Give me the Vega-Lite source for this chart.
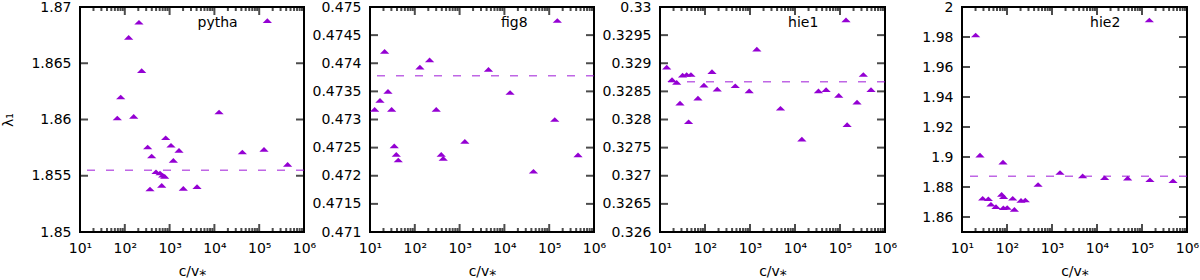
{
  "$schema": "https://vega.github.io/schema/vega-lite/v6.json",
  "padding": {"left": 0, "top": -1, "right": 5, "bottom": 0},
  "spacing": -8,
  "config": {
    "font": "DejaVu Sans",
    "view": {"stroke": "black", "strokeWidth": 2},
    "tick": {"color": "black", "thickness": 2},
    "style": {"guide-label": {"font": "DejaVu Sans", "fontSize": 14, "fill": "black"}, "guide-title": {"font": "DejaVu Sans", "fontSize": 14, "fontWeight": "normal", "fill": "black"}},
    "axis": {"domain": false, "ticks": false, "tickSize": 0, "grid": false, "labelColor": "black", "labelFont": "DejaVu Sans", "labelFontSize": 14, "titleFont": "DejaVu Sans", "titleFontSize": 14, "titleFontWeight": "normal", "titleColor": "black", "labelFlush": false}
  },
  "datasets": {
    "pts": [
      {"panel": "pytha", "c": 68, "lam": 1.86013}, {"panel": "pytha", "c": 81, "lam": 1.862}, {"panel": "pytha", "c": 122, "lam": 1.8673}, {"panel": "pytha", "c": 158, "lam": 1.86028}, {"panel": "pytha", "c": 207, "lam": 1.86864}, {"panel": "pytha", "c": 238, "lam": 1.86434}, {"panel": "pytha", "c": 324, "lam": 1.85756}, {"panel": "pytha", "c": 398, "lam": 1.85676}, {"panel": "pytha", "c": 818, "lam": 1.85838}, {"panel": "pytha", "c": 1074, "lam": 1.85771}, {"panel": "pytha", "c": 1622, "lam": 1.85726}, {"panel": "pytha", "c": 1211, "lam": 1.85637}, {"panel": "pytha", "c": 497, "lam": 1.85536}, {"panel": "pytha", "c": 611, "lam": 1.85524}, {"panel": "pytha", "c": 702, "lam": 1.85504}, {"panel": "pytha", "c": 777, "lam": 1.85495}, {"panel": "pytha", "c": 365, "lam": 1.85382}, {"panel": "pytha", "c": 667, "lam": 1.85415}, {"panel": "pytha", "c": 2023, "lam": 1.85388}, {"panel": "pytha", "c": 4093, "lam": 1.85403}, {"panel": "pytha", "c": 12700, "lam": 1.86067}, {"panel": "pytha", "c": 42000, "lam": 1.85711}, {"panel": "pytha", "c": 128000, "lam": 1.85735}, {"panel": "pytha", "c": 152000, "lam": 1.86879}, {"panel": "pytha", "c": 431000, "lam": 1.85601},
      {"panel": "fig8", "c": 12.7, "lam": 0.47318}, {"panel": "fig8", "c": 16.7, "lam": 0.47334}, {"panel": "fig8", "c": 21.2, "lam": 0.47421}, {"panel": "fig8", "c": 25.2, "lam": 0.4735}, {"panel": "fig8", "c": 30.4, "lam": 0.47318}, {"panel": "fig8", "c": 34.8, "lam": 0.47253}, {"panel": "fig8", "c": 38.6, "lam": 0.47238}, {"panel": "fig8", "c": 42.8, "lam": 0.47228}, {"panel": "fig8", "c": 130, "lam": 0.47393}, {"panel": "fig8", "c": 214, "lam": 0.47406}, {"panel": "fig8", "c": 301, "lam": 0.47318}, {"panel": "fig8", "c": 389, "lam": 0.47238}, {"panel": "fig8", "c": 431, "lam": 0.47231}, {"panel": "fig8", "c": 1309, "lam": 0.47261}, {"panel": "fig8", "c": 4415, "lam": 0.47389}, {"panel": "fig8", "c": 13400, "lam": 0.47348}, {"panel": "fig8", "c": 44500, "lam": 0.47208}, {"panel": "fig8", "c": 133000, "lam": 0.473}, {"panel": "fig8", "c": 152000, "lam": 0.47476}, {"panel": "fig8", "c": 440000, "lam": 0.47237},
      {"panel": "hie1", "c": 14.1, "lam": 0.32893}, {"panel": "hie1", "c": 18.5, "lam": 0.32871}, {"panel": "hie1", "c": 23.5, "lam": 0.32866}, {"panel": "hie1", "c": 27.8, "lam": 0.32829}, {"panel": "hie1", "c": 31.8, "lam": 0.32879}, {"panel": "hie1", "c": 39.1, "lam": 0.3288}, {"panel": "hie1", "c": 43.2, "lam": 0.32796}, {"panel": "hie1", "c": 48.7, "lam": 0.3288}, {"panel": "hie1", "c": 69.7, "lam": 0.32838}, {"panel": "hie1", "c": 94.6, "lam": 0.32861}, {"panel": "hie1", "c": 143, "lam": 0.32885}, {"panel": "hie1", "c": 187, "lam": 0.32854}, {"panel": "hie1", "c": 470, "lam": 0.3286}, {"panel": "hie1", "c": 960, "lam": 0.32851}, {"panel": "hie1", "c": 1419, "lam": 0.32925}, {"panel": "hie1", "c": 4760, "lam": 0.3282}, {"panel": "hie1", "c": 14200, "lam": 0.32765}, {"panel": "hie1", "c": 33200, "lam": 0.32851}, {"panel": "hie1", "c": 49100, "lam": 0.32853}, {"panel": "hie1", "c": 93800, "lam": 0.32843}, {"panel": "hie1", "c": 136000, "lam": 0.32977}, {"panel": "hie1", "c": 144000, "lam": 0.32791}, {"panel": "hie1", "c": 239000, "lam": 0.32831}, {"panel": "hie1", "c": 330000, "lam": 0.3288}, {"panel": "hie1", "c": 489000, "lam": 0.32853},
      {"panel": "hie2", "c": 20.1, "lam": 1.98135}, {"panel": "hie2", "c": 25.1, "lam": 1.90122}, {"panel": "hie2", "c": 28.8, "lam": 1.8725}, {"panel": "hie2", "c": 38.5, "lam": 1.8722}, {"panel": "hie2", "c": 44, "lam": 1.8685}, {"panel": "hie2", "c": 57, "lam": 1.8669}, {"panel": "hie2", "c": 76, "lam": 1.8751}, {"panel": "hie2", "c": 84, "lam": 1.8735}, {"panel": "hie2", "c": 83, "lam": 1.8662}, {"panel": "hie2", "c": 101, "lam": 1.8663}, {"panel": "hie2", "c": 81.5, "lam": 1.89656}, {"panel": "hie2", "c": 134, "lam": 1.8725}, {"panel": "hie2", "c": 146, "lam": 1.8651}, {"panel": "hie2", "c": 205, "lam": 1.8711}, {"panel": "hie2", "c": 255, "lam": 1.8713}, {"panel": "hie2", "c": 490, "lam": 1.88169}, {"panel": "hie2", "c": 1506, "lam": 1.88968}, {"panel": "hie2", "c": 4800, "lam": 1.88746}, {"panel": "hie2", "c": 14800, "lam": 1.88613}, {"panel": "hie2", "c": 48000, "lam": 1.88591}, {"panel": "hie2", "c": 145600, "lam": 1.99134}, {"panel": "hie2", "c": 150000, "lam": 1.8848}, {"panel": "hie2", "c": 489000, "lam": 1.88413}
    ],
    "mean": [
      {"panel": "pytha", "lam": 1.85548}, {"panel": "fig8", "lam": 0.47378}, {"panel": "hie1", "lam": 0.32867}, {"panel": "hie2", "lam": 1.88724}
    ],
    "lab": [
      {"panel": "pytha", "c": 33000, "lam": 1.86858, "name": "pytha"}, {"panel": "fig8", "c": 33000, "lam": 0.474716, "name": "fig8"}, {"panel": "hie1", "c": 33000, "lam": 0.329716, "name": "hie1"}, {"panel": "hie2", "c": 33000, "lam": 1.98933, "name": "hie2"}
    ],
    "xmaj": [{"c": 10}, {"c": 100}, {"c": 1000}, {"c": 10000}, {"c": 100000}, {"c": 1000000}],
    "xmin": [{"c": 20}, {"c": 30}, {"c": 40}, {"c": 50}, {"c": 60}, {"c": 70}, {"c": 80}, {"c": 90}, {"c": 200}, {"c": 300}, {"c": 400}, {"c": 500}, {"c": 600}, {"c": 700}, {"c": 800}, {"c": 900}, {"c": 2000}, {"c": 3000}, {"c": 4000}, {"c": 5000}, {"c": 6000}, {"c": 7000}, {"c": 8000}, {"c": 9000}, {"c": 20000}, {"c": 30000}, {"c": 40000}, {"c": 50000}, {"c": 60000}, {"c": 70000}, {"c": 80000}, {"c": 90000}, {"c": 200000}, {"c": 300000}, {"c": 400000}, {"c": 500000}, {"c": 600000}, {"c": 700000}, {"c": 800000}, {"c": 900000}],
    "yt": [
      {"panel": "pytha", "lam": 1.855}, {"panel": "pytha", "lam": 1.86}, {"panel": "pytha", "lam": 1.865},
      {"panel": "fig8", "lam": 0.4715}, {"panel": "fig8", "lam": 0.472}, {"panel": "fig8", "lam": 0.4725}, {"panel": "fig8", "lam": 0.473}, {"panel": "fig8", "lam": 0.4735}, {"panel": "fig8", "lam": 0.474}, {"panel": "fig8", "lam": 0.4745},
      {"panel": "hie1", "lam": 0.3265}, {"panel": "hie1", "lam": 0.327}, {"panel": "hie1", "lam": 0.3275}, {"panel": "hie1", "lam": 0.328}, {"panel": "hie1", "lam": 0.3285}, {"panel": "hie1", "lam": 0.329}, {"panel": "hie1", "lam": 0.3295},
      {"panel": "hie2", "lam": 1.86}, {"panel": "hie2", "lam": 1.88}, {"panel": "hie2", "lam": 1.9}, {"panel": "hie2", "lam": 1.92}, {"panel": "hie2", "lam": 1.94}, {"panel": "hie2", "lam": 1.96}, {"panel": "hie2", "lam": 1.98}
    ]
  },
  "hconcat": [
    {
      "width": 224, "height": 225,
      "resolve": {"axis": {"x": "independent", "y": "independent"}},
      "layer": [
        {"data": {"name": "xmaj"}, "mark": {"type": "tick", "orient": "vertical", "size": 8, "yOffset": -4}, "encoding": {"x": {"field": "c", "type": "quantitative", "scale": {"type": "log", "domain": [10, 1000000], "nice": false}, "axis": null}, "y": {"datum": 1.85, "type": "quantitative", "scale": {"domain": [1.85, 1.87], "nice": false, "zero": false}, "axis": null}}},
        {"data": {"name": "xmaj"}, "mark": {"type": "tick", "orient": "vertical", "size": 8, "yOffset": 4}, "encoding": {"x": {"field": "c", "type": "quantitative", "scale": {"type": "log", "domain": [10, 1000000], "nice": false}, "axis": null}, "y": {"datum": 1.87, "type": "quantitative", "scale": {"domain": [1.85, 1.87], "nice": false, "zero": false}, "axis": null}}},
        {"data": {"name": "xmin"}, "mark": {"type": "tick", "orient": "vertical", "size": 4, "yOffset": -2}, "encoding": {"x": {"field": "c", "type": "quantitative", "scale": {"type": "log", "domain": [10, 1000000], "nice": false}, "axis": null}, "y": {"datum": 1.85, "type": "quantitative", "scale": {"domain": [1.85, 1.87], "nice": false, "zero": false}, "axis": null}}},
        {"data": {"name": "xmin"}, "mark": {"type": "tick", "orient": "vertical", "size": 4, "yOffset": 2}, "encoding": {"x": {"field": "c", "type": "quantitative", "scale": {"type": "log", "domain": [10, 1000000], "nice": false}, "axis": null}, "y": {"datum": 1.87, "type": "quantitative", "scale": {"domain": [1.85, 1.87], "nice": false, "zero": false}, "axis": null}}},
        {"data": {"name": "yt"}, "transform": [{"filter": "datum.panel == 'pytha'"}], "mark": {"type": "tick", "orient": "horizontal", "size": 8, "xOffset": 4}, "encoding": {"x": {"datum": 10, "type": "quantitative", "scale": {"type": "log", "domain": [10, 1000000], "nice": false}, "axis": null}, "y": {"field": "lam", "type": "quantitative", "scale": {"domain": [1.85, 1.87], "nice": false, "zero": false}, "axis": null}}},
        {"data": {"name": "yt"}, "transform": [{"filter": "datum.panel == 'pytha'"}], "mark": {"type": "tick", "orient": "horizontal", "size": 8, "xOffset": -4}, "encoding": {"x": {"datum": 1000000, "type": "quantitative", "scale": {"type": "log", "domain": [10, 1000000], "nice": false}, "axis": null}, "y": {"field": "lam", "type": "quantitative", "scale": {"domain": [1.85, 1.87], "nice": false, "zero": false}, "axis": null}}},
        {"data": {"name": "mean"}, "transform": [{"filter": "datum.panel == 'pytha'"}],
         "mark": {"type": "rule", "color": "#9400d3", "strokeDash": [8, 11], "strokeWidth": 1.5, "opacity": 0.6},
         "encoding": {"y": {"field": "lam", "type": "quantitative", "scale": {"domain": [1.85, 1.87], "nice": false, "zero": false}, "axis": null}}},
        {"data": {"name": "lab"}, "transform": [{"filter": "datum.panel == 'pytha'"}],
         "mark": {"type": "text", "align": "right", "baseline": "middle", "fontSize": 14, "font": "DejaVu Sans", "color": "black"},
         "encoding": {
           "x": {"field": "c", "type": "quantitative", "scale": {"type": "log", "domain": [10, 1000000], "nice": false}, "axis": null},
           "y": {"field": "lam", "type": "quantitative", "scale": {"domain": [1.85, 1.87], "nice": false, "zero": false}, "axis": null},
           "text": {"field": "name"}
         }},
        {"data": {"name": "pts"}, "transform": [{"filter": "datum.panel == 'pytha'"}],
         "mark": {"type": "point", "shape": "M-1,0.5L1,0.5L0,-0.5Z", "filled": true, "size": 86, "color": "#9400d3", "opacity": 1, "strokeWidth": 0},
         "encoding": {
           "x": {"field": "c", "type": "quantitative", "scale": {"type": "log", "domain": [10, 1000000], "nice": false}, "axis": {"orient": "bottom", "values": [10, 100, 1000, 10000, 100000, 1000000], "ticks": false, "tickSize": 0, "grid": false, "labelFlush": false, "labelPadding": 9, "labelFont": "DejaVu Sans", "labelFontSize": 14, "labelColor": "black", "labelExpr": "'10' + ['¹','²','³','⁴','⁵','⁶'][round(log(datum.value)/LN10) - 1]", "title": "c/v⁎", "titlePadding": 9, "titleFont": "DejaVu Sans", "titleFontSize": 14, "titleFontWeight": "normal", "titleColor": "black"}},
           "y": {"field": "lam", "type": "quantitative", "scale": {"domain": [1.85, 1.87], "nice": false, "zero": false}, "axis": {"orient": "left", "values": [1.85, 1.855, 1.86, 1.865, 1.87], "ticks": false, "tickSize": 0, "grid": false, "labelPadding": 9, "labelFont": "DejaVu Sans", "labelFontSize": 14, "labelColor": "black", "format": "~g", "title": "λ₁", "titlePadding": 10, "titleFont": "DejaVu Sans", "titleFontSize": 14, "titleFontWeight": "normal", "titleColor": "black", "minExtent": 55, "maxExtent": 55}}
         }}
      ]
    },
    {
      "width": 224, "height": 225,
      "resolve": {"axis": {"x": "independent", "y": "independent"}},
      "layer": [
        {"data": {"name": "xmaj"}, "mark": {"type": "tick", "orient": "vertical", "size": 8, "yOffset": -4}, "encoding": {"x": {"field": "c", "type": "quantitative", "scale": {"type": "log", "domain": [10, 1000000], "nice": false}, "axis": null}, "y": {"datum": 0.471, "type": "quantitative", "scale": {"domain": [0.471, 0.475], "nice": false, "zero": false}, "axis": null}}},
        {"data": {"name": "xmaj"}, "mark": {"type": "tick", "orient": "vertical", "size": 8, "yOffset": 4}, "encoding": {"x": {"field": "c", "type": "quantitative", "scale": {"type": "log", "domain": [10, 1000000], "nice": false}, "axis": null}, "y": {"datum": 0.475, "type": "quantitative", "scale": {"domain": [0.471, 0.475], "nice": false, "zero": false}, "axis": null}}},
        {"data": {"name": "xmin"}, "mark": {"type": "tick", "orient": "vertical", "size": 4, "yOffset": -2}, "encoding": {"x": {"field": "c", "type": "quantitative", "scale": {"type": "log", "domain": [10, 1000000], "nice": false}, "axis": null}, "y": {"datum": 0.471, "type": "quantitative", "scale": {"domain": [0.471, 0.475], "nice": false, "zero": false}, "axis": null}}},
        {"data": {"name": "xmin"}, "mark": {"type": "tick", "orient": "vertical", "size": 4, "yOffset": 2}, "encoding": {"x": {"field": "c", "type": "quantitative", "scale": {"type": "log", "domain": [10, 1000000], "nice": false}, "axis": null}, "y": {"datum": 0.475, "type": "quantitative", "scale": {"domain": [0.471, 0.475], "nice": false, "zero": false}, "axis": null}}},
        {"data": {"name": "yt"}, "transform": [{"filter": "datum.panel == 'fig8'"}], "mark": {"type": "tick", "orient": "horizontal", "size": 8, "xOffset": 4}, "encoding": {"x": {"datum": 10, "type": "quantitative", "scale": {"type": "log", "domain": [10, 1000000], "nice": false}, "axis": null}, "y": {"field": "lam", "type": "quantitative", "scale": {"domain": [0.471, 0.475], "nice": false, "zero": false}, "axis": null}}},
        {"data": {"name": "yt"}, "transform": [{"filter": "datum.panel == 'fig8'"}], "mark": {"type": "tick", "orient": "horizontal", "size": 8, "xOffset": -4}, "encoding": {"x": {"datum": 1000000, "type": "quantitative", "scale": {"type": "log", "domain": [10, 1000000], "nice": false}, "axis": null}, "y": {"field": "lam", "type": "quantitative", "scale": {"domain": [0.471, 0.475], "nice": false, "zero": false}, "axis": null}}},
        {"data": {"name": "mean"}, "transform": [{"filter": "datum.panel == 'fig8'"}],
         "mark": {"type": "rule", "color": "#9400d3", "strokeDash": [8, 11], "strokeWidth": 1.5, "opacity": 0.6},
         "encoding": {"y": {"field": "lam", "type": "quantitative", "scale": {"domain": [0.471, 0.475], "nice": false, "zero": false}, "axis": null}}},
        {"data": {"name": "lab"}, "transform": [{"filter": "datum.panel == 'fig8'"}],
         "mark": {"type": "text", "align": "right", "baseline": "middle", "fontSize": 14, "font": "DejaVu Sans", "color": "black"},
         "encoding": {
           "x": {"field": "c", "type": "quantitative", "scale": {"type": "log", "domain": [10, 1000000], "nice": false}, "axis": null},
           "y": {"field": "lam", "type": "quantitative", "scale": {"domain": [0.471, 0.475], "nice": false, "zero": false}, "axis": null},
           "text": {"field": "name"}
         }},
        {"data": {"name": "pts"}, "transform": [{"filter": "datum.panel == 'fig8'"}],
         "mark": {"type": "point", "shape": "M-1,0.5L1,0.5L0,-0.5Z", "filled": true, "size": 86, "color": "#9400d3", "opacity": 1, "strokeWidth": 0},
         "encoding": {
           "x": {"field": "c", "type": "quantitative", "scale": {"type": "log", "domain": [10, 1000000], "nice": false}, "axis": {"orient": "bottom", "values": [10, 100, 1000, 10000, 100000, 1000000], "ticks": false, "tickSize": 0, "grid": false, "labelFlush": false, "labelPadding": 9, "labelFont": "DejaVu Sans", "labelFontSize": 14, "labelColor": "black", "labelExpr": "'10' + ['¹','²','³','⁴','⁵','⁶'][round(log(datum.value)/LN10) - 1]", "title": "c/v⁎", "titlePadding": 9, "titleFont": "DejaVu Sans", "titleFontSize": 14, "titleFontWeight": "normal", "titleColor": "black"}},
           "y": {"field": "lam", "type": "quantitative", "scale": {"domain": [0.471, 0.475], "nice": false, "zero": false}, "axis": {"orient": "left", "values": [0.471, 0.4715, 0.472, 0.4725, 0.473, 0.4735, 0.474, 0.4745, 0.475], "ticks": false, "tickSize": 0, "grid": false, "labelPadding": 9, "labelFont": "DejaVu Sans", "labelFontSize": 14, "labelColor": "black", "format": "~g", "title": null, "minExtent": 60, "maxExtent": 60}}
         }}
      ]
    },
    {
      "width": 225, "height": 225,
      "resolve": {"axis": {"x": "independent", "y": "independent"}},
      "layer": [
        {"data": {"name": "xmaj"}, "mark": {"type": "tick", "orient": "vertical", "size": 8, "yOffset": -4}, "encoding": {"x": {"field": "c", "type": "quantitative", "scale": {"type": "log", "domain": [10, 1000000], "nice": false}, "axis": null}, "y": {"datum": 0.326, "type": "quantitative", "scale": {"domain": [0.326, 0.33], "nice": false, "zero": false}, "axis": null}}},
        {"data": {"name": "xmaj"}, "mark": {"type": "tick", "orient": "vertical", "size": 8, "yOffset": 4}, "encoding": {"x": {"field": "c", "type": "quantitative", "scale": {"type": "log", "domain": [10, 1000000], "nice": false}, "axis": null}, "y": {"datum": 0.33, "type": "quantitative", "scale": {"domain": [0.326, 0.33], "nice": false, "zero": false}, "axis": null}}},
        {"data": {"name": "xmin"}, "mark": {"type": "tick", "orient": "vertical", "size": 4, "yOffset": -2}, "encoding": {"x": {"field": "c", "type": "quantitative", "scale": {"type": "log", "domain": [10, 1000000], "nice": false}, "axis": null}, "y": {"datum": 0.326, "type": "quantitative", "scale": {"domain": [0.326, 0.33], "nice": false, "zero": false}, "axis": null}}},
        {"data": {"name": "xmin"}, "mark": {"type": "tick", "orient": "vertical", "size": 4, "yOffset": 2}, "encoding": {"x": {"field": "c", "type": "quantitative", "scale": {"type": "log", "domain": [10, 1000000], "nice": false}, "axis": null}, "y": {"datum": 0.33, "type": "quantitative", "scale": {"domain": [0.326, 0.33], "nice": false, "zero": false}, "axis": null}}},
        {"data": {"name": "yt"}, "transform": [{"filter": "datum.panel == 'hie1'"}], "mark": {"type": "tick", "orient": "horizontal", "size": 8, "xOffset": 4}, "encoding": {"x": {"datum": 10, "type": "quantitative", "scale": {"type": "log", "domain": [10, 1000000], "nice": false}, "axis": null}, "y": {"field": "lam", "type": "quantitative", "scale": {"domain": [0.326, 0.33], "nice": false, "zero": false}, "axis": null}}},
        {"data": {"name": "yt"}, "transform": [{"filter": "datum.panel == 'hie1'"}], "mark": {"type": "tick", "orient": "horizontal", "size": 8, "xOffset": -4}, "encoding": {"x": {"datum": 1000000, "type": "quantitative", "scale": {"type": "log", "domain": [10, 1000000], "nice": false}, "axis": null}, "y": {"field": "lam", "type": "quantitative", "scale": {"domain": [0.326, 0.33], "nice": false, "zero": false}, "axis": null}}},
        {"data": {"name": "mean"}, "transform": [{"filter": "datum.panel == 'hie1'"}],
         "mark": {"type": "rule", "color": "#9400d3", "strokeDash": [8, 11], "strokeWidth": 1.5, "opacity": 0.6},
         "encoding": {"y": {"field": "lam", "type": "quantitative", "scale": {"domain": [0.326, 0.33], "nice": false, "zero": false}, "axis": null}}},
        {"data": {"name": "lab"}, "transform": [{"filter": "datum.panel == 'hie1'"}],
         "mark": {"type": "text", "align": "right", "baseline": "middle", "fontSize": 14, "font": "DejaVu Sans", "color": "black"},
         "encoding": {
           "x": {"field": "c", "type": "quantitative", "scale": {"type": "log", "domain": [10, 1000000], "nice": false}, "axis": null},
           "y": {"field": "lam", "type": "quantitative", "scale": {"domain": [0.326, 0.33], "nice": false, "zero": false}, "axis": null},
           "text": {"field": "name"}
         }},
        {"data": {"name": "pts"}, "transform": [{"filter": "datum.panel == 'hie1'"}],
         "mark": {"type": "point", "shape": "M-1,0.5L1,0.5L0,-0.5Z", "filled": true, "size": 86, "color": "#9400d3", "opacity": 1, "strokeWidth": 0},
         "encoding": {
           "x": {"field": "c", "type": "quantitative", "scale": {"type": "log", "domain": [10, 1000000], "nice": false}, "axis": {"orient": "bottom", "values": [10, 100, 1000, 10000, 100000, 1000000], "ticks": false, "tickSize": 0, "grid": false, "labelFlush": false, "labelPadding": 9, "labelFont": "DejaVu Sans", "labelFontSize": 14, "labelColor": "black", "labelExpr": "'10' + ['¹','²','³','⁴','⁵','⁶'][round(log(datum.value)/LN10) - 1]", "title": "c/v⁎", "titlePadding": 9, "titleFont": "DejaVu Sans", "titleFontSize": 14, "titleFontWeight": "normal", "titleColor": "black"}},
           "y": {"field": "lam", "type": "quantitative", "scale": {"domain": [0.326, 0.33], "nice": false, "zero": false}, "axis": {"orient": "left", "values": [0.326, 0.3265, 0.327, 0.3275, 0.328, 0.3285, 0.329, 0.3295, 0.33], "ticks": false, "tickSize": 0, "grid": false, "labelPadding": 9, "labelFont": "DejaVu Sans", "labelFontSize": 14, "labelColor": "black", "format": "~g", "title": null, "minExtent": 60, "maxExtent": 60}}
         }}
      ]
    },
    {
      "width": 225, "height": 225,
      "resolve": {"axis": {"x": "independent", "y": "independent"}},
      "layer": [
        {"data": {"name": "xmaj"}, "mark": {"type": "tick", "orient": "vertical", "size": 8, "yOffset": -4}, "encoding": {"x": {"field": "c", "type": "quantitative", "scale": {"type": "log", "domain": [10, 1000000], "nice": false}, "axis": null}, "y": {"datum": 1.85, "type": "quantitative", "scale": {"domain": [1.85, 2], "nice": false, "zero": false}, "axis": null}}},
        {"data": {"name": "xmaj"}, "mark": {"type": "tick", "orient": "vertical", "size": 8, "yOffset": 4}, "encoding": {"x": {"field": "c", "type": "quantitative", "scale": {"type": "log", "domain": [10, 1000000], "nice": false}, "axis": null}, "y": {"datum": 2, "type": "quantitative", "scale": {"domain": [1.85, 2], "nice": false, "zero": false}, "axis": null}}},
        {"data": {"name": "xmin"}, "mark": {"type": "tick", "orient": "vertical", "size": 4, "yOffset": -2}, "encoding": {"x": {"field": "c", "type": "quantitative", "scale": {"type": "log", "domain": [10, 1000000], "nice": false}, "axis": null}, "y": {"datum": 1.85, "type": "quantitative", "scale": {"domain": [1.85, 2], "nice": false, "zero": false}, "axis": null}}},
        {"data": {"name": "xmin"}, "mark": {"type": "tick", "orient": "vertical", "size": 4, "yOffset": 2}, "encoding": {"x": {"field": "c", "type": "quantitative", "scale": {"type": "log", "domain": [10, 1000000], "nice": false}, "axis": null}, "y": {"datum": 2, "type": "quantitative", "scale": {"domain": [1.85, 2], "nice": false, "zero": false}, "axis": null}}},
        {"data": {"name": "yt"}, "transform": [{"filter": "datum.panel == 'hie2'"}], "mark": {"type": "tick", "orient": "horizontal", "size": 8, "xOffset": 4}, "encoding": {"x": {"datum": 10, "type": "quantitative", "scale": {"type": "log", "domain": [10, 1000000], "nice": false}, "axis": null}, "y": {"field": "lam", "type": "quantitative", "scale": {"domain": [1.85, 2], "nice": false, "zero": false}, "axis": null}}},
        {"data": {"name": "yt"}, "transform": [{"filter": "datum.panel == 'hie2'"}], "mark": {"type": "tick", "orient": "horizontal", "size": 8, "xOffset": -4}, "encoding": {"x": {"datum": 1000000, "type": "quantitative", "scale": {"type": "log", "domain": [10, 1000000], "nice": false}, "axis": null}, "y": {"field": "lam", "type": "quantitative", "scale": {"domain": [1.85, 2], "nice": false, "zero": false}, "axis": null}}},
        {"data": {"name": "mean"}, "transform": [{"filter": "datum.panel == 'hie2'"}],
         "mark": {"type": "rule", "color": "#9400d3", "strokeDash": [8, 11], "strokeWidth": 1.5, "opacity": 0.6},
         "encoding": {"y": {"field": "lam", "type": "quantitative", "scale": {"domain": [1.85, 2], "nice": false, "zero": false}, "axis": null}}},
        {"data": {"name": "lab"}, "transform": [{"filter": "datum.panel == 'hie2'"}],
         "mark": {"type": "text", "align": "right", "baseline": "middle", "fontSize": 14, "font": "DejaVu Sans", "color": "black"},
         "encoding": {
           "x": {"field": "c", "type": "quantitative", "scale": {"type": "log", "domain": [10, 1000000], "nice": false}, "axis": null},
           "y": {"field": "lam", "type": "quantitative", "scale": {"domain": [1.85, 2], "nice": false, "zero": false}, "axis": null},
           "text": {"field": "name"}
         }},
        {"data": {"name": "pts"}, "transform": [{"filter": "datum.panel == 'hie2'"}],
         "mark": {"type": "point", "shape": "M-1,0.5L1,0.5L0,-0.5Z", "filled": true, "size": 86, "color": "#9400d3", "opacity": 1, "strokeWidth": 0},
         "encoding": {
           "x": {"field": "c", "type": "quantitative", "scale": {"type": "log", "domain": [10, 1000000], "nice": false}, "axis": {"orient": "bottom", "values": [10, 100, 1000, 10000, 100000, 1000000], "ticks": false, "tickSize": 0, "grid": false, "labelFlush": false, "labelPadding": 9, "labelFont": "DejaVu Sans", "labelFontSize": 14, "labelColor": "black", "labelExpr": "'10' + ['¹','²','³','⁴','⁵','⁶'][round(log(datum.value)/LN10) - 1]", "title": "c/v⁎", "titlePadding": 9, "titleFont": "DejaVu Sans", "titleFontSize": 14, "titleFontWeight": "normal", "titleColor": "black"}},
           "y": {"field": "lam", "type": "quantitative", "scale": {"domain": [1.85, 2], "nice": false, "zero": false}, "axis": {"orient": "left", "values": [1.86, 1.88, 1.9, 1.92, 1.94, 1.96, 1.98, 2], "ticks": false, "tickSize": 0, "grid": false, "labelPadding": 9, "labelFont": "DejaVu Sans", "labelFontSize": 14, "labelColor": "black", "format": "~g", "title": null, "minExtent": 70.5, "maxExtent": 70.5}}
         }}
      ]
    }
  ]
}
